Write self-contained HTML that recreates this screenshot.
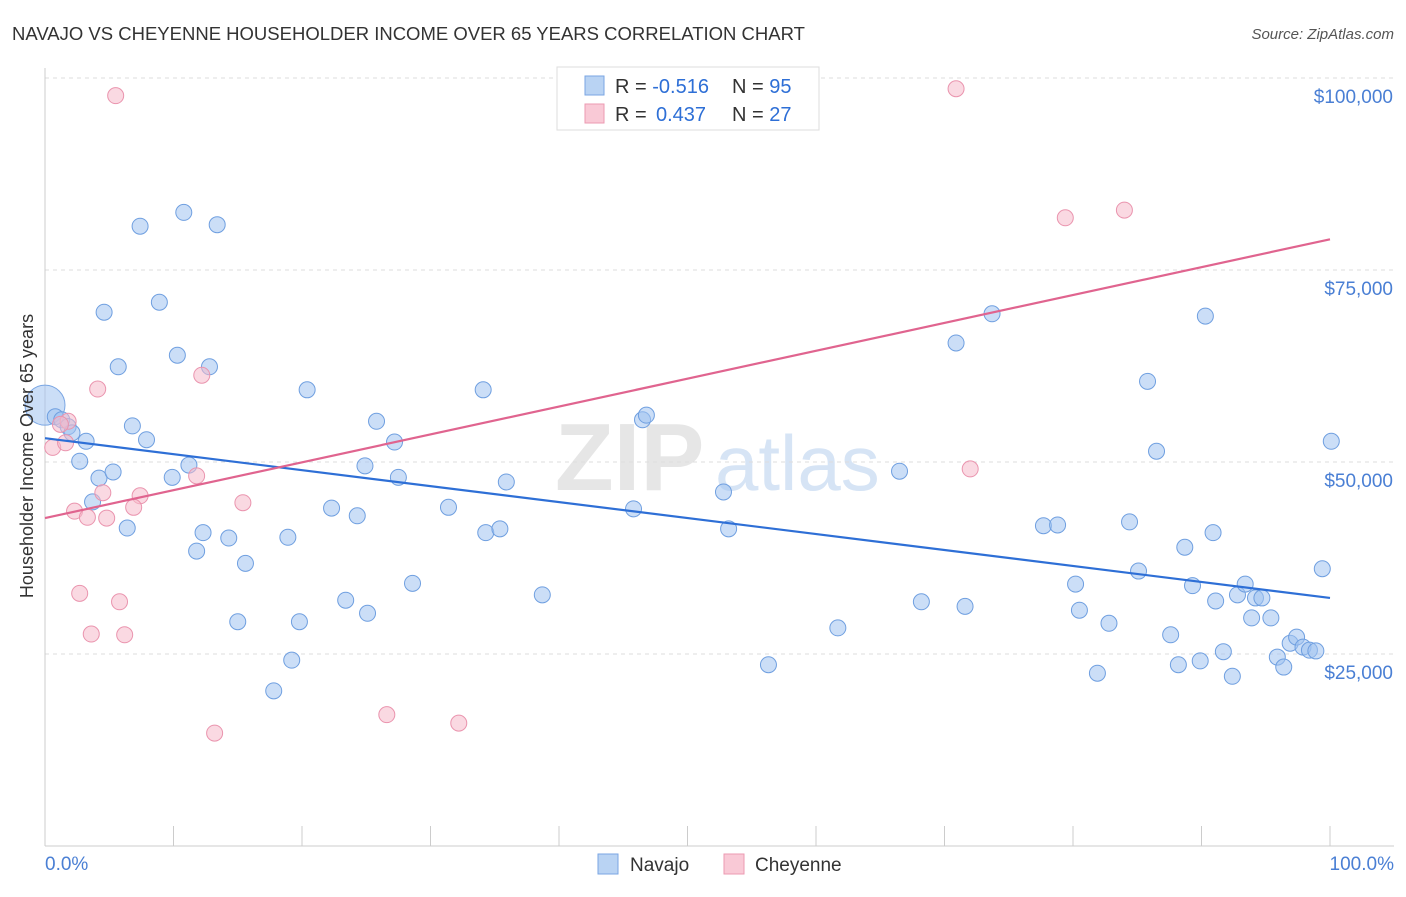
<!DOCTYPE html>
<html><head><meta charset="utf-8">
<style>
body{margin:0;background:#fff;font-family:"Liberation Sans",sans-serif;}
svg text{font-family:"Liberation Sans",sans-serif;}
</style></head>
<body>
<svg id="chart" width="1406" height="892" xmlns="http://www.w3.org/2000/svg">
<text x="12" y="40" font-size="18.5" fill="#333">NAVAJO VS CHEYENNE HOUSEHOLDER INCOME OVER 65 YEARS CORRELATION CHART</text>
<text x="1394" y="39" font-size="15" fill="#555" text-anchor="end" font-style="italic">Source: ZipAtlas.com</text>
<g>
<text x="555" y="490" font-size="96" fill="#e6e6e6" font-family="Liberation Serif" font-weight="bold">ZIP</text>
<text x="715" y="490" font-size="78" fill="#d6e4f5">atlas</text>
</g>
<g id="grid"></g>
<g id="axes"></g>
<g id="pts"></g>
<g id="lines"></g>
<text transform="translate(33,456) rotate(-90)" font-size="18" fill="#333" text-anchor="middle">Householder Income Over 65 years</text>
<g>
<rect x="557" y="67" width="262" height="63" fill="#fff" stroke="#ddd"/>
<rect x="585" y="76" width="19" height="19" fill="#b9d3f3" stroke="#7aa6e3"/>
<rect x="585" y="104" width="19" height="19" fill="#f9c9d6" stroke="#ec9ab2"/>
<text x="615" y="93" font-size="20" fill="#333">R = <tspan fill="#2e6fd6">-0.516</tspan><tspan x="732">N = </tspan><tspan fill="#2e6fd6">95</tspan></text>
<text x="615" y="121" font-size="20" fill="#333">R = <tspan fill="#2e6fd6" x="656">0.437</tspan><tspan x="732">N = </tspan><tspan fill="#2e6fd6">27</tspan></text>
</g>
<g>
<rect x="598" y="854" width="20" height="20" fill="#b9d3f3" stroke="#7aa6e3"/>
<text x="630" y="871" font-size="19" fill="#333">Navajo</text>
<rect x="724" y="854" width="20" height="20" fill="#f9c9d6" stroke="#ec9ab2"/>
<text x="755" y="871" font-size="19" fill="#333">Cheyenne</text>
</g>
</svg>
<script>
const yTicks=[25000,50000,75000,100000];
const yTickLabels=["$25,000","$50,000","$75,000","$100,000"];
const xTickLabels=["0.0%","100.0%"];
const navajoX=[0.8,1.3,1.8,2.1,3.2,2.7,4.2,5.3,3.7,6.4,4.6,5.7,6.8,7.9,7.4,10.8,13.4,8.9,10.3,12.8,9.9,11.2,12.3,11.8,14.3,15.6,15.0,17.8,18.9,19.2,19.8,20.4,22.3,23.4,24.3,24.9,25.1,25.8,27.2,27.5,28.6,31.4,34.1,34.3,35.4,35.9,38.7,45.8,46.5,46.8,52.8,53.2,56.3,61.7,66.5,68.2,70.9,71.6,73.7,77.7,78.8,80.2,80.5,81.9,82.8,84.4,85.1,85.8,86.5,87.6,88.2,88.7,89.3,89.9,90.3,90.9,91.1,91.7,92.4,92.8,93.4,93.9,94.2,94.7,95.4,95.9,96.4,96.9,97.4,97.9,98.4,98.9,99.4,100.1];
const navajoY=[55.9,55.5,54.6,53.8,52.7,50.1,47.9,48.7,44.8,41.4,69.5,62.4,54.7,52.9,80.7,82.5,80.9,70.8,63.9,62.4,48.0,49.6,40.8,38.4,40.1,36.8,29.2,20.2,40.2,24.2,29.2,59.4,44.0,32.0,43.0,49.5,30.3,55.3,52.6,48.0,34.2,44.1,59.4,40.8,41.3,47.4,32.7,43.9,55.5,56.1,46.1,41.3,23.6,28.4,48.8,31.8,65.5,31.2,69.3,41.7,41.8,34.1,30.7,22.5,29.0,42.2,35.8,60.5,51.4,27.5,23.6,38.9,33.9,24.1,69.0,40.8,31.9,25.3,22.1,32.7,34.1,29.7,32.3,32.3,29.7,24.6,23.3,26.4,27.2,25.9,25.5,25.4,36.1,52.7];
const cheyX=[5.5,70.9,79.4,84.0,4.1,12.2,1.8,1.2,0.6,1.6,4.5,7.4,2.3,3.3,4.8,6.9,11.8,15.4,2.7,5.8,3.6,6.2,13.2,26.6,32.2,72.0];
const cheyY=[97.7,98.6,81.8,82.8,59.5,61.3,55.3,54.9,51.9,52.5,46.0,45.6,43.6,42.8,42.7,44.1,48.2,44.7,32.9,31.8,27.6,27.5,14.7,17.1,16.0,49.1];
const navajoTrend=[53.1,32.3];
const cheyTrend=[42.7,79.0];
const ns="http://www.w3.org/2000/svg";
const X=v=>45+v*12.85;
const Y=v=>846-v*1000*192/25000;
function mk(tag,at,parent){const e=document.createElementNS(ns,tag);for(const k in at)e.setAttribute(k,at[k]);parent.appendChild(e);return e;}
const grid=document.getElementById('grid'),axes=document.getElementById('axes'),pts=document.getElementById('pts'),lines=document.getElementById('lines');
yTicks.forEach((t,i)=>{
 const y=846-t*192/25000;
 const l=mk('line',{x1:45,x2:1394,y1:y,y2:y,stroke:'#ddd','stroke-dasharray':'4,4'},grid);
 
 
 const tx=mk('text',{x:1393,y:y+25,'font-size':19,fill:'#4a7fd4','text-anchor':'end'},axes);
 
 
 tx.textContent=yTickLabels[i];
});
mk('line',{x1:45,x2:45,y1:68,y2:846,stroke:'#ccc'},axes);
mk('line',{x1:45,x2:1394,y1:846,y2:846,stroke:'#ccc'},axes);
for(let i=0;i<=10;i++){const x=X(i*10);const t=mk('line',{x1:x,x2:x,y1:826,y2:846,stroke:'#ccc'},axes);}
const xl0=mk('text',{x:45,y:870,'font-size':19,fill:'#4a7fd4'},axes);


xl0.textContent=xTickLabels[0];
const xl1=mk('text',{x:1394,y:870,'font-size':19,fill:'#4a7fd4','text-anchor':'end'},axes);


xl1.textContent=xTickLabels[1];
const big=mk('circle',{cx:X(0),cy:Y(57.4),r:20,fill:'rgba(160,195,240,0.55)',stroke:'#7aa6e3','stroke-width':1},pts);


navajoX.forEach((x,i)=>{const c=mk('circle',{cx:X(x),cy:Y(navajoY[i]),r:8,fill:'rgba(160,195,240,0.55)',stroke:'#6f9fe0','stroke-width':1},pts);
 
 });
cheyX.forEach((x,i)=>{const c=mk('circle',{cx:X(x),cy:Y(cheyY[i]),r:8,fill:'rgba(246,185,202,0.55)',stroke:'#ea94ae','stroke-width':1},pts);
 
 });
const l1=mk('line',{x1:X(0),y1:Y(navajoTrend[0]),x2:X(100),y2:Y(navajoTrend[1]),stroke:'#2e6fd6','stroke-width':2.2},lines);


const l2=mk('line',{x1:X(0),y1:Y(cheyTrend[0]),x2:X(100),y2:Y(cheyTrend[1]),stroke:'#e0648f','stroke-width':2.2},lines);


</script>
</body></html>
